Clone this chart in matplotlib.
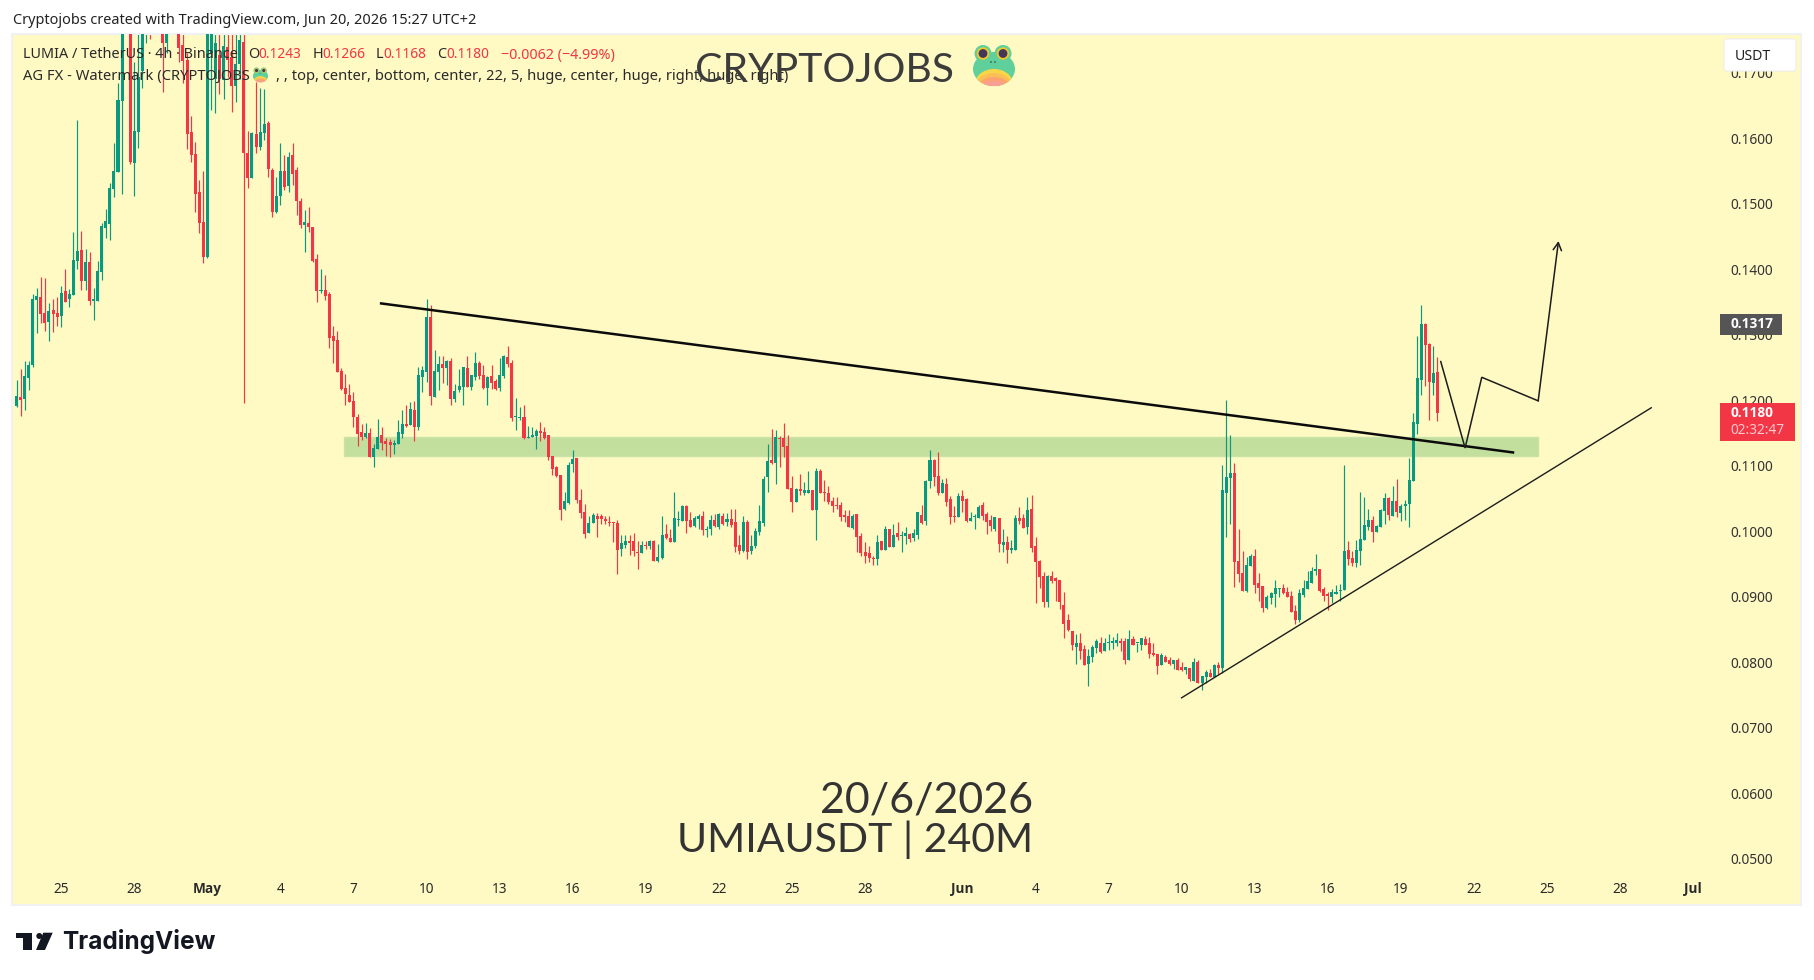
# LUMIA / USDT 4h chart, redrawn in TradingView style
import numpy as np
import matplotlib
matplotlib.use('Agg')
import matplotlib.pyplot as plt
from matplotlib.patches import Rectangle, Circle, Ellipse, Polygon, FancyBboxPatch

# prices are in 1/10000 USDT, one list per field, 10 bars a row
opens = np.array([
    1191,1205,1202,1234,1254,1353,1357,1333,1319,1338,
    1333,1328,1367,1354,1361,1412,1429,1382,1411,1352,
    1352,1396,1463,1469,1522,1548,1657,1830,1790,1562,
    1609,1702,1790,1850,1800,1850,1850,1745,1850,1900,
    1880,1742,1719,1609,1576,1518,1472,1419,1730,1691,
    1727,1689,1740,1724,1679,1714,1747,1577,1540,1606,
    1587,1608,1623,1551,1487,1512,1550,1527,1574,1551,
    1504,1467,1470,1464,1415,1367,1368,1362,1298,1292,
    1244,1219,1208,1199,1174,1151,1144,1150,1113,1125,
    1147,1138,1136,1131,1133,1148,1164,1162,1185,1159,
    1235,1243,1327,1205,1243,1255,1249,1260,1202,1216,
    1220,1249,1220,1235,1257,1238,1219,1237,1229,1219,
    1237,1266,1257,1174,1173,1174,1142,1144,1145,1153,
    1151,1147,1115,1098,1086,1034,1043,1102,1112,1048,
    1029,997,1012,1023,1023,1019,1014,1014,1012,973,
    979,985,985,968,967,979,977,985,954,959,
    996,990,983,1017,1015,1038,1017,1008,1019,1023,
    1002,1003,1017,1006,1023,1014,1019,1014,979,970,
    1014,970,977,999,1012,1083,1109,1104,1143,1142,
    1130,1066,1044,1064,1058,1058,1063,1032,1092,1060,
    1058,1046,1040,1040,1024,1023,1005,1026,992,968,
    966,959,957,985,972,1003,976,997,992,992,
    995,989,994,1024,1015,1076,1108,1084,1058,1072,
    1049,1023,1021,1053,1049,1015,1021,1020,1040,1027,
    1017,1003,1020,979,983,972,972,1020,1020,1006,
    1034,977,954,931,892,931,928,925,887,864,
    847,823,829,820,798,808,821,830,817,829,
    829,830,832,832,804,835,829,827,835,829,
    814,812,795,808,804,797,804,792,788,791,
    772,801,768,777,783,777,796,791,1058,1081,
    1089,954,936,909,947,962,921,916,883,898,
    904,912,913,907,901,878,865,902,912,921,
    939,942,912,904,899,904,909,910,971,959,
    951,970,986,1006,1017,999,1006,1031,1051,1023,
    1046,1028,1038,1041,1077,1164,1231,1316,1286,1226,
    1243]) / 1e4
highs = np.array([
    1231,1248,1260,1260,1362,1371,1388,1386,1348,1355,
    1357,1374,1400,1370,1457,1628,1458,1431,1426,1371,
    1412,1470,1492,1532,1592,1684,1830,1850,1810,1717,
    1780,1800,1860,1870,1900,1920,1870,1860,1950,1960,
    1900,1800,1730,1634,1594,1536,1550,1810,1830,1790,
    1780,1800,1790,1790,1790,1790,1790,1611,1609,1686,
    1677,1675,1627,1555,1541,1593,1574,1579,1593,1556,
    1509,1490,1495,1464,1423,1400,1391,1365,1313,1306,
    1249,1240,1225,1212,1179,1164,1165,1157,1133,1171,
    1159,1142,1141,1139,1170,1185,1193,1197,1199,1251,
    1252,1354,1345,1277,1267,1267,1261,1264,1225,1248,
    1251,1267,1238,1274,1260,1254,1237,1254,1232,1264,
    1269,1283,1261,1203,1190,1193,1161,1159,1156,1167,
    1159,1147,1115,1099,1086,1060,1106,1124,1112,1064,
    1041,1023,1028,1028,1026,1023,1023,1014,1017,994,
    994,994,997,985,985,985,986,986,980,1023,
    1011,1003,1060,1031,1040,1040,1029,1023,1026,1031,
    1008,1025,1026,1028,1028,1028,1034,1034,994,1023,
    1017,994,1005,1040,1084,1133,1156,1154,1145,1165,
    1147,1085,1066,1087,1075,1092,1063,1096,1095,1078,
    1069,1052,1052,1044,1032,1032,1027,1026,997,983,
    977,962,994,985,1008,1003,1011,1014,1001,1006,
    998,1003,1030,1040,1078,1124,1110,1121,1079,1081,
    1053,1038,1058,1063,1050,1029,1027,1040,1044,1029,
    1024,1021,1020,1003,992,986,1024,1037,1026,1052,
    1055,991,956,937,933,939,930,925,907,873,
    847,843,844,826,820,827,835,838,837,843,
    838,844,837,837,849,840,830,837,840,838,
    830,812,814,811,808,804,806,800,792,791,
    806,803,779,788,789,797,800,1101,1200,1147,
    1104,1003,970,960,965,973,936,916,902,907,
    925,913,919,915,909,887,912,925,939,945,
    965,942,915,907,912,918,919,1101,985,970,
    986,1060,1052,1034,1023,1009,1034,1058,1052,1069,
    1080,1041,1048,1112,1180,1298,1345,1318,1287,1283,
    1266]) / 1e4
lows = np.array([
    1189,1176,1185,1216,1250,1303,1318,1305,1291,1304,
    1314,1312,1350,1342,1361,1400,1368,1368,1345,1322,
    1352,1383,1448,1445,1510,1548,1515,1786,1560,1512,
    1585,1677,1745,1751,1790,1790,1670,1730,1790,1790,
    1717,1684,1583,1564,1487,1455,1409,1417,1643,1639,
    1668,1660,1694,1640,1655,1690,1195,1524,1539,1578,
    1582,1597,1541,1480,1486,1498,1521,1518,1528,1483,
    1463,1426,1457,1411,1350,1364,1353,1280,1257,1243,
    1215,1193,1197,1159,1130,1139,1142,1113,1098,1125,
    1124,1115,1113,1118,1133,1142,1159,1162,1138,1154,
    1212,1228,1193,1205,1215,1226,1223,1193,1197,1212,
    1193,1220,1216,1231,1233,1217,1193,1217,1216,1214,
    1234,1251,1168,1154,1170,1141,1142,1144,1125,1138,
    1141,1109,1086,1083,1017,1032,1041,1090,1043,1020,
    990,997,1012,991,1011,1011,1008,983,934,962,
    974,964,962,942,967,973,973,954,953,957,
    988,983,983,1008,1015,997,1006,1006,1003,994,
    991,994,1006,1003,1009,1008,1006,968,965,968,
    957,965,974,994,1008,1060,1102,1072,1098,1113,
    1064,1030,1044,1056,1055,1058,1032,986,1058,1046,
    1041,1030,1034,1015,1014,1006,1003,969,962,951,
    953,948,948,972,972,976,976,986,968,980,
    983,985,988,1011,1009,1066,1069,1056,1058,1038,
    1011,1014,1021,1030,1014,1015,1003,1020,1017,995,
    1000,1000,968,968,951,966,972,1011,1005,995,
    968,890,914,885,884,921,893,881,837,847,
    818,797,805,795,763,801,814,814,817,818,
    820,824,817,798,804,826,815,818,827,806,
    809,782,795,800,795,789,788,786,782,771,
    771,768,757,768,777,777,782,783,991,1011,
    915,922,909,907,947,906,893,876,881,889,
    884,899,904,899,876,858,862,899,912,921,
    933,907,893,880,890,904,893,910,948,947,
    945,948,986,1002,983,999,1006,1011,1017,1023,
    1022,1015,1017,1006,1077,1148,1208,1222,1170,1208,
    1168]) / 1e4
closes = np.array([
    1206,1201,1237,1254,1354,1359,1332,1318,1336,1332,
    1327,1364,1350,1362,1414,1428,1382,1411,1351,1353,
    1397,1466,1474,1524,1550,1658,1790,1790,1563,1611,
    1694,1780,1840,1800,1850,1880,1746,1850,1900,1880,
    1737,1718,1606,1574,1515,1470,1418,1770,1790,1745,
    1691,1740,1719,1680,1714,1750,1578,1540,1608,1587,
    1609,1622,1553,1487,1512,1550,1525,1571,1545,1504,
    1467,1472,1464,1412,1367,1368,1359,1295,1290,1243,
    1217,1209,1197,1174,1148,1144,1150,1113,1127,1144,
    1134,1133,1131,1135,1151,1164,1161,1186,1159,1238,
    1246,1327,1206,1244,1255,1249,1260,1202,1214,1222,
    1251,1220,1238,1257,1237,1219,1235,1226,1217,1238,
    1267,1255,1173,1176,1174,1142,1144,1147,1153,1150,
    1142,1113,1095,1084,1032,1046,1101,1110,1048,1028,
    996,1012,1025,1019,1019,1015,1012,1012,971,982,
    985,982,970,967,979,977,985,954,960,994,
    990,983,1020,1019,1038,1015,1006,1020,1023,1002,
    1003,1017,1008,1026,1011,1019,1009,976,970,1014,
    968,977,1000,1015,1080,1107,1104,1144,1140,1128,
    1064,1044,1064,1061,1063,1063,1032,1092,1058,1058,
    1044,1038,1038,1021,1021,1006,1023,991,966,962,
    959,957,983,972,1003,976,994,991,994,997,
    988,997,1029,1012,1076,1108,1082,1058,1073,1044,
    1021,1021,1053,1046,1015,1020,1023,1037,1023,1014,
    1008,1021,980,983,972,974,1020,1015,1005,1032,
    974,953,930,892,931,924,924,892,859,849,
    826,830,817,795,809,823,832,815,830,830,
    832,834,829,804,835,826,830,837,827,812,
    811,794,811,801,797,804,788,788,792,774,
    801,768,779,785,777,796,791,1063,1083,1089,
    953,935,909,948,962,918,913,883,899,906,
    913,913,906,899,876,864,906,913,924,939,
    942,909,901,901,907,907,910,970,957,951,
    971,988,1009,1017,999,1008,1032,1051,1025,1046,
    1029,1038,1041,1078,1167,1234,1316,1284,1228,1241,
    1180]) / 1e4

# axis labels: bar number of the first bar of each labelled day
date_bars = [11, 29, 47, 65, 83, 101, 119, 137, 155, 173, 191, 209,
             233, 251, 269, 287, 305, 323, 341, 359, 377, 395, 413]
date_labels = ['25', '28', 'May', '4', '7', '10', '13', '16', '19', '22', '25', '28',
               'Jun', '4', '7', '10', '13', '16', '19', '22', '25', '28', 'Jul']
price_ticks = [0.05, 0.06, 0.07, 0.08, 0.09, 0.10, 0.11, 0.12, 0.13, 0.14, 0.15, 0.16, 0.17]

# drawings on the chart (bar number, price)
zone_bars = [80.6, 374.8]
zone_prices = [0.1115, 0.1144]
down_line_x = [89.5, 368.9]
down_line_y = [0.1348, 0.1120]
up_line_x = [286.8, 402.8]
up_line_y = [0.0745, 0.1189]
path_x = [350.8, 356.8, 360.9, 374.8, 379.8]
path_y = [0.1259, 0.1127, 0.1235, 0.1199, 0.1443]
peak_price = 0.1317

# pixel layout of the pane
W, H = 1814, 980
LEFT, RIGHT, TOP, BOTTOM = 12, 1801, 34, 904.7
BAR0_PX, BAR_PX = 16.5, 4.06
Y110_PX, UNIT_PX = 465.7, 6550

GREEN = '#089981'
RED = '#F23645'
PANE = '#FFF9C4'
UI_FONT = ['Noto Sans', 'DejaVu Sans']
BOLD_FONT = ['Open Sans', 'DejaVu Sans']
BIG_FONT = ['Lato', 'DejaVu Sans']


def price_to_px(p):
    return Y110_PX + (0.11 - p) * UNIT_PX


def draw_frog(ov, cx, cy, s):
    # frog emoji from circles, s = 1 is the big one, cx/cy centre of the head
    head = Ellipse((cx, cy + 3 * s), 42 * s, 34 * s, color='#5fd09c', lw=0, zorder=6)
    ov.add_patch(head)
    for dx in (-11, 9):
        ov.add_patch(Circle((cx + dx * s, cy - 12.5 * s), 8.5 * s, color='#5fd09c', lw=0, zorder=6))
        ov.add_patch(Circle((cx + dx * s, cy - 12.5 * s), 6.2 * s, color='#f4c62a', lw=0, zorder=7))
        ov.add_patch(Circle((cx + dx * s, cy - 12.5 * s), 4.4 * s, color='#43365a', lw=0, zorder=8))
    for dx in (-3, 1):
        ov.add_patch(Circle((cx + dx * s, cy - 4 * s), 0.8 * s, color='#2c4a3c', lw=0, zorder=7))
    for shift, col in [(0, '#f9d648'), (4, '#fbbf55'), (8, '#fca36f'), (12, '#f79f97')]:
        belly = Ellipse((cx, cy + (18 + shift) * s), 38 * s, 30 * s, color=col, lw=0, zorder=7)
        ov.add_patch(belly)
        belly.set_clip_path(Ellipse((cx, cy + 3 * s), 42 * s, 34 * s, transform=ov.transData))


fig = plt.figure(figsize=(W / 100, H / 100), dpi=100, facecolor='white')
ax = fig.add_axes([LEFT / W, 1 - BOTTOM / H, (RIGHT - LEFT) / W, (BOTTOM - TOP) / H], facecolor=PANE)
ax.set_xlim((LEFT - BAR0_PX) / BAR_PX, (RIGHT - BAR0_PX) / BAR_PX)
ax.set_ylim(0.11 - (BOTTOM - Y110_PX) / UNIT_PX, 0.11 + (Y110_PX - TOP) / UNIT_PX)
for side in ax.spines.values():
    side.set_color('#f0f1f3')
    side.set_linewidth(1.5)

# zone under the candles
ax.add_patch(Rectangle((zone_bars[0], zone_prices[0]), zone_bars[1] - zone_bars[0],
                       zone_prices[1] - zone_prices[0], facecolor='#c3df9e', edgecolor='#c9e3a6',
                       linewidth=1.0, zorder=1))

# candles
bars = np.arange(len(closes))
up = closes >= opens
colors = np.where(up, GREEN, RED)
ax.vlines(bars, lows, highs, colors=colors, linewidth=0.85, zorder=2)
body_low = np.minimum(opens, closes)
body_size = np.maximum(np.abs(closes - opens), 0.00018)
ax.bar(bars, body_size, width=0.74, bottom=body_low, color=colors, linewidth=0, zorder=3)

# trend lines and projected path
ax.plot(down_line_x, down_line_y, color='#0b0b0b', linewidth=1.8, zorder=4, solid_capstyle='butt')
ax.plot(up_line_x, up_line_y, color='#1c1c1c', linewidth=1.0, zorder=4, solid_capstyle='butt')
ax.plot(path_x[:-1], path_y[:-1], color='#1c1c1c', linewidth=1.1, zorder=4, solid_joinstyle='miter')
ax.annotate('', xy=(path_x[-1], path_y[-1]), xytext=(path_x[-2], path_y[-2]), zorder=4,
            arrowprops=dict(arrowstyle='->,head_length=0.55,head_width=0.3', color='#1c1c1c',
                            linewidth=1.1, shrinkA=0, shrinkB=0))

# axis labels sit inside the pane
ax.set_xticks(date_bars)
ax.set_xticklabels(date_labels, fontsize=9.8, family=UI_FONT, color='#2a2a2a')
for lab, name in zip(ax.get_xticklabels(), date_labels):
    if name in ('May', 'Jun', 'Jul'):
        lab.set_family(BOLD_FONT)
        lab.set_fontweight('bold')
ax.tick_params(axis='x', length=0, pad=-16.5)
ax.yaxis.tick_right()
ax.set_yticks(price_ticks)
ax.set_yticklabels(['%.4f' % p for p in price_ticks], fontsize=9.9, family=UI_FONT, color='#333333')
ax.tick_params(axis='y', length=0, pad=-51.0)

# overlay in pixels for watermark, legend, price labels
ov = fig.add_axes([0, 0, 1, 1], zorder=5)
ov.set_xlim(0, W)
ov.set_ylim(H, 0)
ov.axis('off')


def label(x, y, s, **kw):
    kw.setdefault('family', UI_FONT)
    kw.setdefault('fontsize', 10.4)
    kw.setdefault('color', '#2a2a2a')
    kw.setdefault('va', 'center')
    ov.text(x, y, s, zorder=9, **kw)


label(13, 20, 'Cryptojobs created with TradingView.com, Jun 20, 2026 15:27 UTC+2', color='#222222', fontsize=10.45)

# legend rows
label(23, 55, 'LUMIA / TetherUS · 4h · Binance')
label(248, 55, 'O')
label(258.6, 55, '0.1243', color=RED, fontsize=9.9)
label(312.5, 55, 'H')
label(322, 55, '0.1266', color=RED, fontsize=9.9)
label(376, 55, 'L')
label(383.6, 55, '0.1168', color=RED, fontsize=9.9)
label(437, 55, 'C')
label(446, 55, '0.1180', color=RED, fontsize=9.9)
label(500.7, 55, '−0.0062 (−4.99%)', color=RED, fontsize=10.3)
label(23, 76, 'AG FX - Watermark (CRYPTOJOBS', fontsize=10.6)
label(276, 76, ', , top, center, bottom, center, 22, 5, huge, center, huge, right, huge, right)', fontsize=10.6)
draw_frog(ov, 260.5, 75, 0.36)

# watermark
label(695, 82, 'CRYPTOJOBS', family=BIG_FONT, fontsize=29.5, color='#3c3c3c', va='baseline')
draw_frog(ov, 994, 66, 1.0)
label(1033, 812, '20/6/2026', family=BIG_FONT, fontsize=31, color='#333333', ha='right', va='baseline')
label(1033, 852, 'UMIAUSDT | 240M', family=BIG_FONT, fontsize=29.5, color='#333333', ha='right', va='baseline')

# currency button
ov.add_patch(FancyBboxPatch((1726, 41), 68, 28, boxstyle='round,pad=2,rounding_size=3',
                            facecolor='white', edgecolor='#eeeeee', linewidth=0.8, zorder=6))
label(1735, 56, 'USDT', fontsize=10.2, color='#222222')

# price labels
y_peak = price_to_px(peak_price)
ov.add_patch(Rectangle((1720, y_peak - 10), 62, 21, facecolor='#555555', linewidth=0, zorder=8))
label(1730.5, y_peak, '%.4f' % peak_price, family=BOLD_FONT, color='white', fontsize=9.8, fontweight='bold')
y_last = price_to_px(closes[-1])
ov.add_patch(Rectangle((1720, y_last - 10.3), 75, 38, facecolor=RED, linewidth=0, zorder=8))
label(1730.5, y_last, '%.4f' % closes[-1], family=BOLD_FONT, color='white', fontsize=9.8, fontweight='bold')
label(1730.5, y_last + 17.5, '02:32:47', color='#ffc9cf', fontsize=9.8)

# TradingView logo at the bottom
ov.add_patch(Polygon([(15.7, 932.7), (31.7, 932.7), (31.7, 950), (23.3, 950), (23.3, 938.3), (15.7, 938.3)],
                     facecolor='#131722', linewidth=0))
ov.add_patch(Circle((39.3, 936), 3, facecolor='#131722', linewidth=0))
ov.add_patch(Polygon([(43.3, 932.7), (52.7, 932.7), (45, 950), (36, 950)], facecolor='#131722', linewidth=0))
label(62, 941, 'TradingView', family=['Inter', 'DejaVu Sans'], fontsize=17.6, fontweight='bold', color='#131722')

fig.savefig('out.png', dpi=100, facecolor='white')
